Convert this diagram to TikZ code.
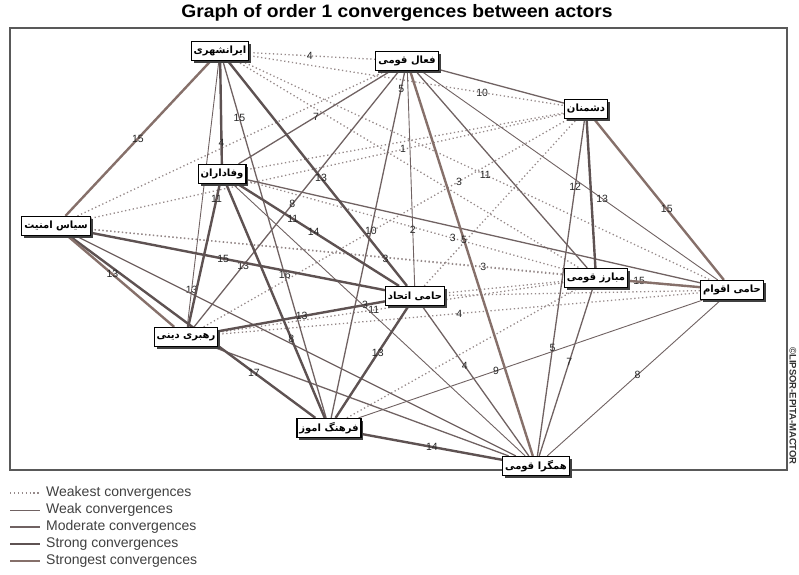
\documentclass[tikz,border=0pt]{standalone}
\usepackage{fontspec}
\setmainfont{Liberation Sans}
\newfontfamily\farsi[Script=Arabic]{DejaVu Sans}
\TeXXeTstate=1
\usetikzlibrary{shadows,backgrounds}
\definecolor{edgec}{RGB}{112,98,98}
\definecolor{darkc}{RGB}{94,82,82}
\definecolor{dotc}{RGB}{150,138,138}
\definecolor{topc}{RGB}{134,112,106}
\begin{document}
\begin{tikzpicture}[x=1pt, y=-1pt,
  actor/.style={draw=black, line width=1.2pt, fill=white, inner sep=2.5pt,
    minimum height=19pt, font=\farsi\bfseries\fontsize{10}{11}\selectfont,
    drop shadow={shadow xshift=2.4pt, shadow yshift=-2.4pt, fill=black!75, opacity=1},
    execute at begin node=\beginR, execute at end node=\endR},
  lbl/.style={font=\fontsize{10.5}{11}\selectfont, text=black!85, inner sep=0.5pt},
  weakest/.style={dotc, line width=1.3pt, dash pattern=on 1.3pt off 2.6pt},
  weak/.style={edgec, line width=0.9pt},
  moderate/.style={edgec, line width=1.3pt},
  strong/.style={darkc, line width=2.4pt},
  strongest/.style={topc, line width=2.4pt}]

\useasboundingbox (0,0) rectangle (799,574);

\node [font=\bfseries\fontsize{18}{20}\selectfont, xscale=1.07] (title) at (397,13)
  {Graph of order 1 convergences between actors};

% actors
\foreach \n/\x/\y/\t in {ir/220/51/ایرانشهری, fq/407/61/فعال قومی,
    dm/586/109/دشمنان, vf/222/174/وفاداران, sa/56/226/سیاس امنیت,
    he/415/296/حامی اتحاد, mq/596/278/مبارز قومی, ha/732/290/حامی اقوام,
    rd/186/337/رهبری دینی, fa/329/428/فرهنگ اموز, hq/536/466/همگرا قومی}
  \node [actor] (\n) at (\x,\y) {\t};

\node [rotate=-90, font=\bfseries\fontsize{9.5}{10}\selectfont, text=black!80]
  (copy) at (793,406) {©LIPSOR-EPITA-MACTOR};

\begin{scope}[on background layer]
\draw [line width=1.3pt, black!65] (10,28) rectangle (787,470);

% weakest
\foreach \a/\b in {ir/mq, sa/fq, vf/dm, he/dm, he/mq, he/ha, fa/mq}
  \draw [weakest] (\a) -- (\b);
\foreach \a/\b/\p/\l in {ir/fq/.48/4, ir/dm/.74/10, ir/ha/.52/11, sa/dm/.66/1,
    rd/dm/.7/3, vf/mq/.65/3, sa/mq/.83/3, sa/ha/.9/15, rd/mq/.45/11, rd/ha/.5/4}
  \draw [weakest] (\a) -- node [lbl, pos=\p] {\l} (\b);

% weak
\draw [weak] (vf) -- (hq);
\foreach \a/\b/\p/\l in {ir/rd/.86/13, fq/he/.74/2, fq/ha/.61/13, ha/hq/.48/8,
    fa/ha/.4/9}
  \draw [weak] (\a) -- node [lbl, pos=\p] {\l} (\b);

% moderate
\foreach \a/\b in {fq/dm, fq/mq, vf/ha, sa/hq, rd/hq}
  \draw [moderate] (\a) -- (\b);
\foreach \a/\b/\p/\l in {fq/vf/.49/7, he/hq/.4/4, mq/hq/.44/7}
  \draw [moderate] (\a) -- node [lbl, pos=\p] {\l} (\b);
\draw [moderate] (ir) -- node [lbl, pos=.16] {15} node [lbl, pos=.6] {16} (fa);
\draw [moderate] (fq) -- node [lbl, pos=.05] {5} node [lbl, pos=.46] {10} (fa);
\draw [moderate] (fq) -- node [lbl, pos=.52] {8} node [lbl, pos=.76] {13} (rd);
\draw [moderate] (dm) -- node [lbl, pos=.2] {12} node [lbl, pos=.68] {5} (hq);

% strong
\foreach \a/\b in {dm/mq}
  \draw [strong] (\a) -- (\b);
\foreach \a/\b/\p/\l in {ir/vf/.8/4, vf/rd/.1/11, vf/fa/.66/8, sa/he/.45/15,
    sa/fa/.75/17, he/fa/.42/13, fa/hq/.5/14}
  \draw [strong] (\a) -- node [lbl, pos=\p] {\l} (\b);
\draw [strong] (ir) -- node [lbl, pos=.52] {13} node [lbl, pos=.88] {3} (he);
\draw [strong] (vf) -- node [lbl, pos=.34] {11} node [lbl, pos=.47] {14} (he);
\draw [strong] (rd) -- node [lbl, pos=.5] {13} node [lbl, pos=.88] {3} (he);

% strongest
\draw [strongest] (mq) -- (ha);
\foreach \a/\b/\p/\l in {ir/sa/.5/15, sa/rd/.42/13, dm/ha/.56/15, fq/hq/.44/5}
  \draw [strongest] (\a) -- node [lbl, pos=\p] {\l} (\b);
\end{scope}

% legend
\foreach \s/\t [count=\i] in {weakest/Weakest, weak/Weak, moderate/Moderate,
    strong/Strong, strongest/Strongest} {
  \draw [\s] (10,476+\i*17) -- (40,476+\i*17);
  \node [anchor=west, font=\fontsize{14}{15}\selectfont, text=black!75,
    inner sep=0pt] (leg-\i) at (46,476+\i*17) {\t\ convergences};
}

\end{tikzpicture}
\end{document}
